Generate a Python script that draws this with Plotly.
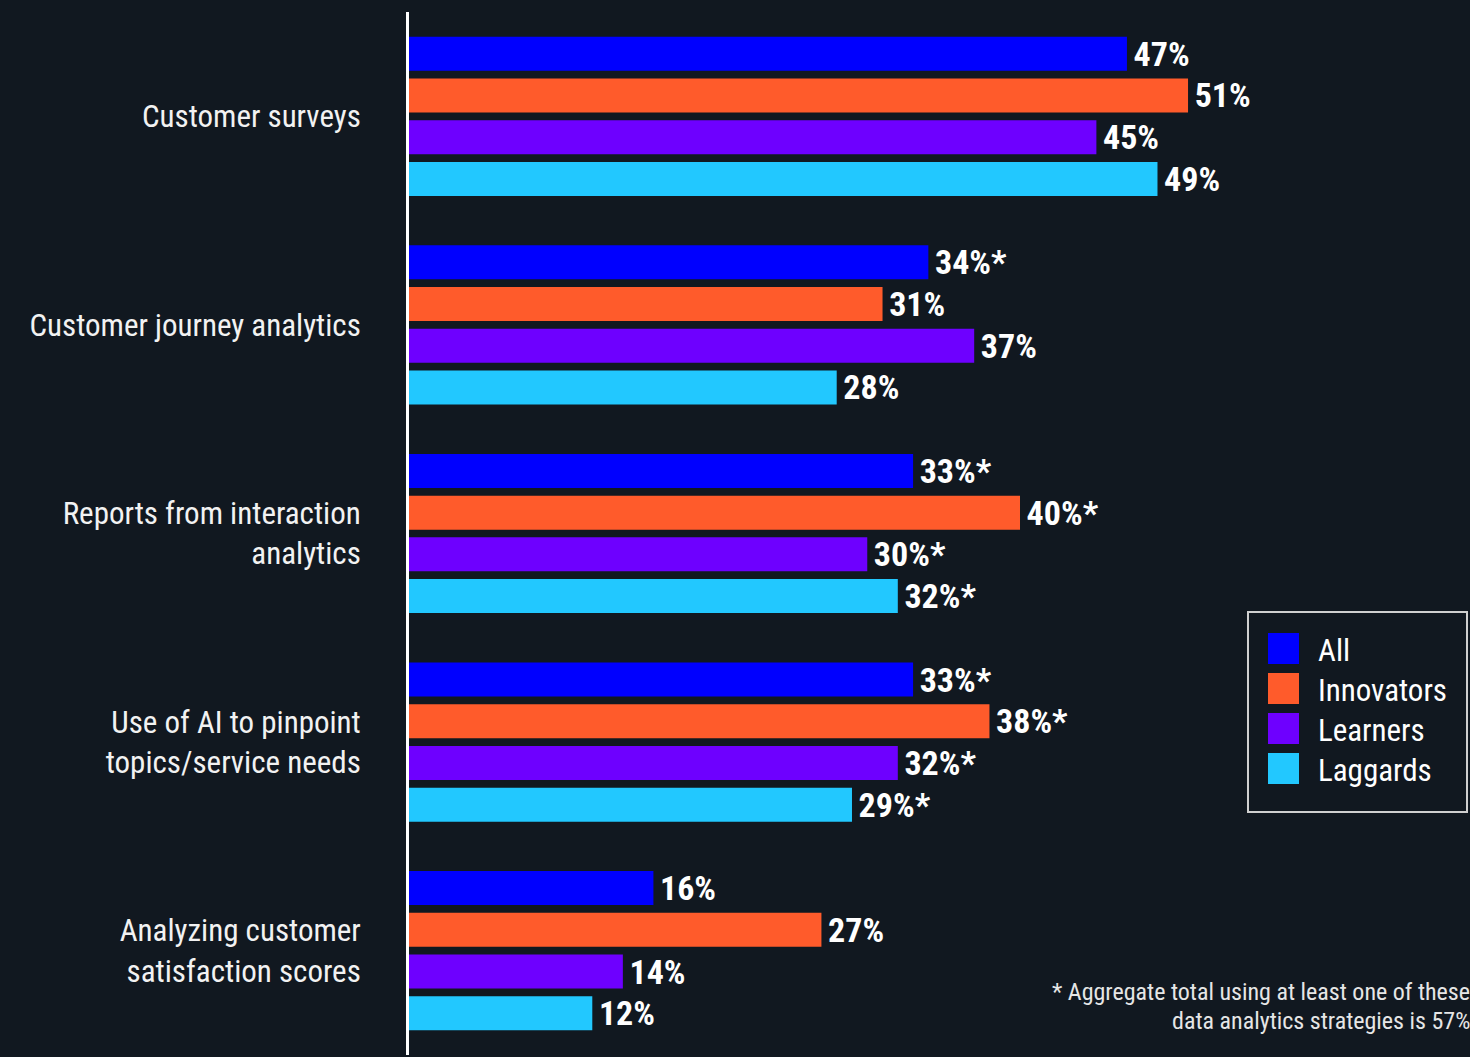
import plotly.graph_objects as go

# Survey data: share of respondents using each data analytics strategy
categories = [
    "Customer surveys",
    "Customer journey analytics",
    "Reports from interaction<br>analytics",
    "Use of AI to pinpoint<br>topics/service needs",
    "Analyzing customer<br>satisfaction scores",
]
series_names = ["All", "Innovators", "Learners", "Laggards"]

all_values = [47, 34, 33, 33, 16]
innovators_values = [51, 31, 40, 38, 27]
learners_values = [45, 37, 30, 32, 14]
laggards_values = [49, 28, 32, 29, 12]

# "*" marks values counted in the aggregate footnote
all_marks = ["", "*", "*", "*", ""]
innovators_marks = ["", "", "*", "*", ""]
learners_marks = ["", "", "*", "*", ""]
laggards_marks = ["", "", "*", "*", ""]

footnote_lines = [
    "* Aggregate total using at least one of these",
    "data analytics strategies is 57%",
]

colors = ["#0000FF", "#FF5B2B", "#6E00FF", "#22C8FF"]
BG = "#111820"
FONT = "Liberation Sans Narrow, Roboto Condensed, DejaVu Sans Condensed, sans-serif"

W, H = 1470, 1057
M_L, M_R, M_T, M_B = 409, 7, 12, 2
X_MAX = 69


def xp(px):
    return (px - M_L) / (W - M_L - M_R)


def yp(py):
    return 1 - (py - M_T) / (H - M_T - M_B)


values = [all_values, innovators_values, learners_values, laggards_values]
marks = [all_marks, innovators_marks, learners_marks, laggards_marks]

fig = go.Figure()
for name, vals, mk, col in zip(series_names, values, marks, colors):
    fig.add_trace(go.Bar(
        y=categories,
        x=vals,
        name=name,
        orientation="h",
        marker=dict(color=col, line=dict(width=0)),
        text=[f"\u200a{v}%{m}" for v, m in zip(vals, mk)],
        textposition="outside",
        constraintext="none",
        cliponaxis=False,
        textfont=dict(family=FONT, size=34, color="#FFFFFF", weight="bold"),
        showlegend=False,
    ))

shapes = []
annotations = []

# Legend box, swatches and labels
shapes.append(dict(type="rect", xref="paper", yref="paper",
                   x0=xp(1248), x1=xp(1467), y0=yp(612), y1=yp(812),
                   line=dict(color="#D0D0D0", width=2), fillcolor=BG, layer="above"))
for i, (name, col) in enumerate(zip(series_names, colors)):
    top = 633 + 40 * i
    shapes.append(dict(type="rect", xref="paper", yref="paper",
                       x0=xp(1268), x1=xp(1299), y0=yp(top), y1=yp(top + 31),
                       line=dict(width=0), fillcolor=col, layer="above"))
    annotations.append(dict(xref="paper", yref="paper", x=xp(1316), y=yp(top + 17),
                            xanchor="left", yanchor="middle", text=name, showarrow=False,
                            font=dict(family=FONT, size=31, color="#FFFFFF")))

# Footnote
for i, line in enumerate(footnote_lines):
    annotations.append(dict(xref="paper", yref="paper", x=xp(1472), y=yp(992 + 29 * i),
                            xanchor="right", yanchor="middle", text=line, showarrow=False,
                            font=dict(family=FONT, size=24, color="#E6E6E6")))

fig.update_layout(
    width=W, height=H,
    margin=dict(l=M_L, r=M_R, t=M_T, b=M_B),
    paper_bgcolor=BG, plot_bgcolor=BG,
    barmode="group",
    bargap=0.2,
    bargroupgap=0.185,
    font=dict(family=FONT, color="#FFFFFF"),
    shapes=shapes,
    annotations=annotations,
    xaxis=dict(range=[0, X_MAX], visible=False, showgrid=False, zeroline=False),
    yaxis=dict(
        autorange="reversed",
        showgrid=False, zeroline=False,
        showline=True, linecolor="#FFFFFF", linewidth=3,
        ticks="", ticklabelstandoff=39,
        tickfont=dict(family=FONT, size=31, color="#F2F2F2"),
    ),
)

fig.write_html("out.html")
